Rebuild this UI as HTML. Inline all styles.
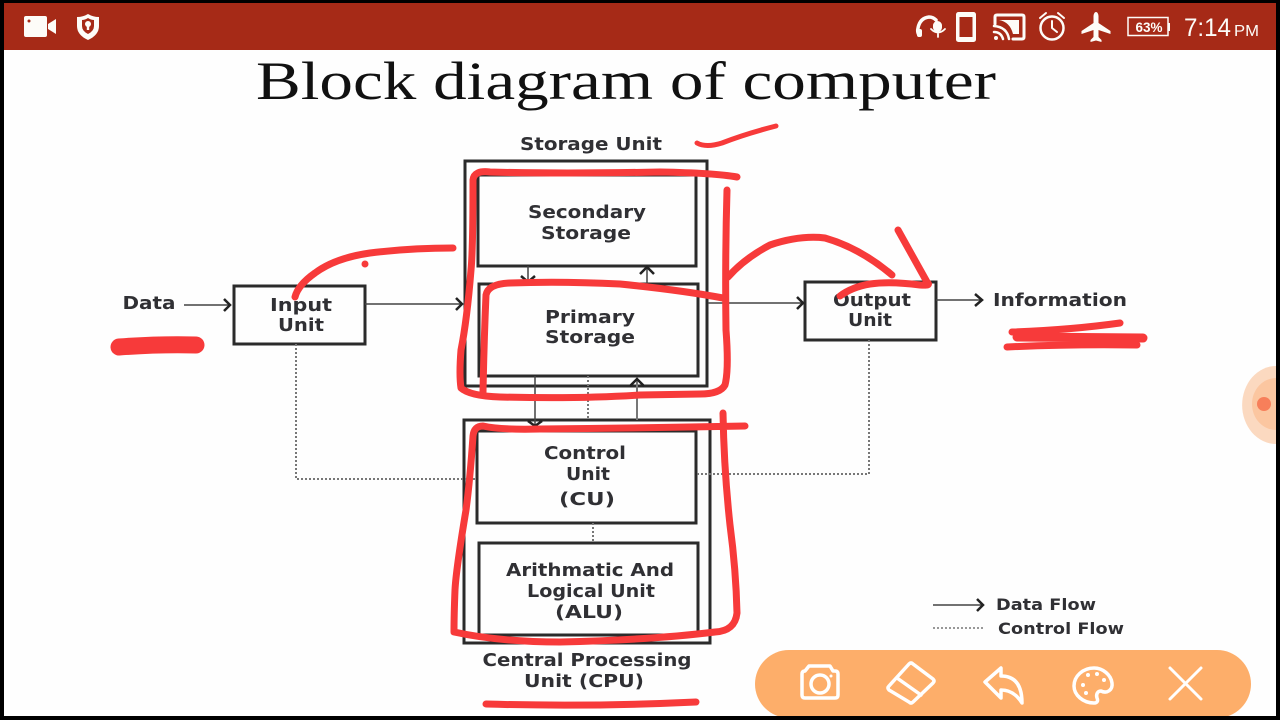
<!DOCTYPE html>
<html><head><meta charset="utf-8"><style>
html,body{margin:0;padding:0;width:1280px;height:720px;overflow:hidden;background:#000}
svg{display:block}
.t{font-family:"DejaVu Sans",sans-serif;font-weight:bold;font-size:18px;fill:#303034;text-anchor:middle}
.l{stroke:#2b2b2b;stroke-width:3;fill:none}
.a{stroke:#444;stroke-width:1.5;fill:none}
.h{stroke:#222;stroke-width:2.500;fill:none}
.d{stroke:#777;stroke-width:2;fill:none;stroke-dasharray:2 2}
.r{stroke:#f73a3a;stroke-width:7;fill:none;stroke-linecap:round;stroke-linejoin:round}
.w{stroke:#fff;stroke-width:3.500;fill:none;stroke-linecap:round;stroke-linejoin:round}
.s{stroke:#fdfcf8;stroke-width:3.500;fill:none;stroke-linecap:round;stroke-linejoin:round}
</style></head><body>
<svg width="1280" height="720" viewBox="0 0 1280 720" xmlns="http://www.w3.org/2000/svg">
<rect width="1280" height="720" fill="#000"/>
<rect x="4" y="50" width="1272" height="666" fill="#fefefe"/>
<rect x="4" y="3" width="1272" height="47" fill="#a62a17"/>

<!-- status bar left -->
<rect x="24" y="16" width="23" height="21" rx="2" fill="#fdfcf8"/>
<path d="M48 24l8-5v15l-8-5z" fill="#fdfcf8"/>
<circle cx="29" cy="21" r="1.500" fill="#a62a17"/>
<path d="M77 17q6 0 11-3q5 3 11 3v9q0 9-11 14q-11-5-11-14z" fill="#fdfcf8"/>
<path d="M82 20q3 0 6-2q3 2 6 2v6q0 5-6 8q-6-3-6-8z" fill="#a62a17"/>
<circle cx="88" cy="24" r="3" fill="#fdfcf8"/><rect x="86.800" y="24" width="2.400" height="6" fill="#fdfcf8"/>

<!-- status bar right -->
<path class="s" d="M919 35q-2-3-1-7q2-10 11-11q4 0 7 3"/>
<rect x="917" y="29" width="5" height="8" rx="2" fill="#fdfcf8"/>
<rect x="933" y="21" width="9" height="11" rx="4.500" fill="#fdfcf8"/>
<path class="s" style="stroke-width:1.800" d="M931 29q7 7 14 0M938 33v4"/>
<rect x="956" y="12" width="20" height="30" rx="2.500" fill="#fdfcf8"/>
<rect x="959.500" y="17" width="13" height="20" fill="#a62a17"/>
<path class="s" style="stroke-width:3" d="M995 24v-7q0-2 2-2h25q2 0 2 2v20q0 2-2 2h-9"/>
<path d="M999 20h20v14h-6q-3-12-14-14z" fill="#fdfcf8"/>
<path class="s" style="stroke-width:2.500" d="M994 26q13 1 15 13M994 32q7 0 9 7"/>
<circle cx="996" cy="38" r="2" fill="#fdfcf8"/>
<circle cx="1052" cy="28" r="11.500" class="s" style="stroke-width:2.500"/>
<path class="s" style="stroke-width:2" d="M1052 21v7l5 4M1040 18l6-5M1064 18l-6-5"/>
<path d="M1096 12q2 0 2.500 4v7l12 8v3l-12-4v7l3 3v2l-5.500-1.500l-5.500 1.500v-2l3-3v-7l-12 4v-3l12-8v-7q.5-4 2.500-4z" fill="#fdfcf8"/>
<rect x="1128" y="17.500" width="40" height="18" fill="none" stroke="#fdfcf8" stroke-width="1.500"/>
<rect x="1168" y="23" width="2" height="8" fill="#fdfcf8"/>
<text x="1149" y="32" font-family="Liberation Sans" font-weight="bold" font-size="13.500" fill="#fdfcf8" text-anchor="middle">63%</text>
<text x="1184" y="36" font-family="Liberation Sans" font-size="25" fill="#fdfcf8" textLength="47" lengthAdjust="spacingAndGlyphs">7:14</text>
<text x="1234" y="36" font-family="Liberation Sans" font-size="16" fill="#fdfcf8" textLength="25" lengthAdjust="spacingAndGlyphs">PM</text>

<!-- title -->
<text x="256" y="99" font-family="Liberation Serif" font-size="54" fill="#111" textLength="740" lengthAdjust="spacingAndGlyphs">Block diagram of computer</text>

<!-- boxes -->
<rect class="l" x="465" y="161" width="242" height="225"/>
<rect class="l" x="478" y="175" width="218" height="91"/>
<rect class="l" x="479" y="284" width="219" height="92"/>
<rect class="l" x="464" y="420" width="246" height="223"/>
<rect class="l" x="477" y="431" width="219" height="92"/>
<rect class="l" x="479" y="543" width="219" height="92"/>
<rect class="l" x="234" y="286" width="131" height="58"/>
<rect class="l" x="805" y="282" width="131" height="58"/>

<!-- data arrows -->
<path class="a" d="M184 305h46"/><path class="h" d="M224 299l6 6l-6 6"/>
<path class="a" d="M365 304h97"/><path class="h" d="M456 298l6 6l-6 6"/>
<path class="a" d="M708 303h95"/><path class="h" d="M797 297l6 6l-6 6"/>
<path class="a" d="M936 300h46"/><path class="h" d="M975 294l7 6l-7 6"/>
<path class="a" d="M528 266v17"/><path class="h" d="M521 276l7 6l7-6"/>
<path class="a" d="M647 284v-17"/><path class="h" d="M640 274l7-7l7 7"/>
<path class="a" d="M535 376v50"/><path class="h" d="M528 421l7 5l7-5"/>
<path class="a" style="stroke:#777;stroke-width:2" d="M637 420v-42"/><path class="h" d="M630 386l7-7l7 7"/>

<!-- control flow -->
<path class="d" d="M296 344v135h181"/>
<path class="d" d="M869 340v134h-173"/>
<path class="d" d="M588 376v44"/>
<path class="d" d="M593 523v20"/>

<!-- labels -->
<text class="t" x="591" y="150" textLength="142" lengthAdjust="spacingAndGlyphs">Storage Unit</text>
<text class="t" x="587" y="218" textLength="118" lengthAdjust="spacingAndGlyphs">Secondary</text>
<text class="t" x="586" y="239" textLength="90" lengthAdjust="spacingAndGlyphs">Storage</text>
<text class="t" x="590" y="323" textLength="90" lengthAdjust="spacingAndGlyphs">Primary</text>
<text class="t" x="590" y="343" textLength="90" lengthAdjust="spacingAndGlyphs">Storage</text>
<text class="t" x="149" y="309" textLength="53" lengthAdjust="spacingAndGlyphs">Data</text>
<text class="t" x="301" y="311" textLength="62" lengthAdjust="spacingAndGlyphs">Input</text>
<text class="t" x="301" y="331" textLength="46" lengthAdjust="spacingAndGlyphs">Unit</text>
<text class="t" x="872" y="306" textLength="78" lengthAdjust="spacingAndGlyphs">Output</text>
<text class="t" x="870" y="326" textLength="44" lengthAdjust="spacingAndGlyphs">Unit</text>
<text class="t" x="1060" y="306" textLength="134" lengthAdjust="spacingAndGlyphs">Information</text>
<text class="t" x="585" y="459" textLength="82" lengthAdjust="spacingAndGlyphs">Control</text>
<text class="t" x="588" y="480" textLength="44" lengthAdjust="spacingAndGlyphs">Unit</text>
<text class="t" x="587" y="505" textLength="56" lengthAdjust="spacingAndGlyphs">(CU)</text>
<text class="t" x="590" y="576" textLength="168" lengthAdjust="spacingAndGlyphs">Arithmatic And</text>
<text class="t" x="591" y="597" textLength="128" lengthAdjust="spacingAndGlyphs">Logical Unit</text>
<text class="t" x="589" y="618" textLength="68" lengthAdjust="spacingAndGlyphs">(ALU)</text>
<text class="t" x="587" y="666" textLength="209" lengthAdjust="spacingAndGlyphs">Central Processing</text>
<text class="t" x="584" y="687" textLength="120" lengthAdjust="spacingAndGlyphs">Unit (CPU)</text>

<!-- legend -->
<path class="a" d="M933 605h50"/><path class="h" d="M977 599l6 6l-6 6"/>
<path class="d" d="M933 628h52" style="stroke-width:1.500"/>
<text class="t" x="1046" y="610" style="font-size:16px" textLength="100" lengthAdjust="spacingAndGlyphs">Data Flow</text>
<text class="t" x="1061" y="634" style="font-size:16px" textLength="126" lengthAdjust="spacingAndGlyphs">Control Flow</text>

<!-- red annotations -->
<path class="r" d="M697 143Q706 148 722 143Q745 134 776 126" style="stroke-width:5"/>
<path class="r" d="M737 177Q715 173 660 172Q560 174 490 172Q474 170 473 180Q473 250 471 270Q467 320 461 350Q459 375 461 388Q470 396 500 397Q580 399 640 395L700 394Q720 394 725 385Q729 370 726 330Q725 260 727 190"/>
<path class="r" d="M723 298Q680 290 620 284Q560 281 510 283Q488 284 486 295Q484 340 483 392"/>
<path class="r" d="M728 277Q745 258 770 245Q800 235 825 238Q860 248 892 275"/>
<path class="r" d="M898 230Q912 255 927 282Q932 286 920 285Q890 281 870 284Q852 287 840 296"/>
<path class="r" d="M295 297Q298 285 315 273Q335 258 370 253Q410 248 453 248"/>
<circle cx="365" cy="264" r="3.500" fill="#f73a3a"/>
<path class="r" d="M119 347Q160 344 196 345" style="stroke-width:17"/>
<path class="r" d="M1012 332Q1070 330 1120 323" style="stroke-width:7"/>
<path class="r" d="M1017 337L1143 338" style="stroke-width:9"/>
<path class="r" d="M1007 347Q1070 344 1137 345" style="stroke-width:7"/>
<path class="r" d="M745 426Q640 428 540 429Q500 430 483 426Q474 426 473 436Q470 480 466 510Q456 570 455 590Q454 615 454 632Q500 642 560 642Q650 640 715 632Q735 631 737 613Q736 570 730 525Q724 470 723 413"/>
<path class="r" d="M486 704Q590 707 696 702" style="stroke-width:7"/>

<!-- toolbar -->
<rect x="755" y="650" width="496" height="68" rx="34" fill="#fdae6a"/>
<rect x="754" y="716" width="498" height="4" fill="#000"/>
<path class="w" d="M805 671l4-5h21l3 5h2q3 0 3 3v21q0 3-3 3h-30q-3 0-3-3v-21q0-3 3-3z"/>
<circle class="w" cx="820" cy="684" r="9"/>
<circle cx="831" cy="676" r="1.500" fill="#fff"/>
<path class="w" d="M889 686l20-22q2-2 4 0l20 15q2 2 0 4l-20 19q-2 2-4 0l-20-12q-2-2 0-4zM897 678l24 17"/>
<path class="w" d="M985 682l16-14v8q21 0 21 27q-8-13-21-13v8z"/>
<path class="w" d="M1094 668c-11 0-20 8-20 18c0 9 9 17 20 17c4 0 4-3 3-5c-1-3 0-7 4-7c6 3 12-1 11-8c-1-8-9-15-18-15z"/>
<circle cx="1083" cy="685" r="2" fill="#fff"/><circle cx="1088" cy="675" r="2" fill="#fff"/><circle cx="1097" cy="674" r="2" fill="#fff"/><circle cx="1104" cy="680" r="2" fill="#fff"/><circle cx="1086" cy="693" r="2" fill="#fff"/>
<path class="w" d="M1170 668l31 31M1201 668l-31 31" style="stroke-width:3"/>

<!-- floating side button -->
<path d="M1276 366a33 38 0 0 0 0 78z" fill="#fbd9c0"/>
<path d="M1276 378a24 26 0 0 0 0 52z" fill="#fbc6a0"/>
<circle cx="1264" cy="404" r="7" fill="#f77f5a"/>
<rect x="1276" y="0" width="4" height="720" fill="#000"/>
</svg>
</body></html>
